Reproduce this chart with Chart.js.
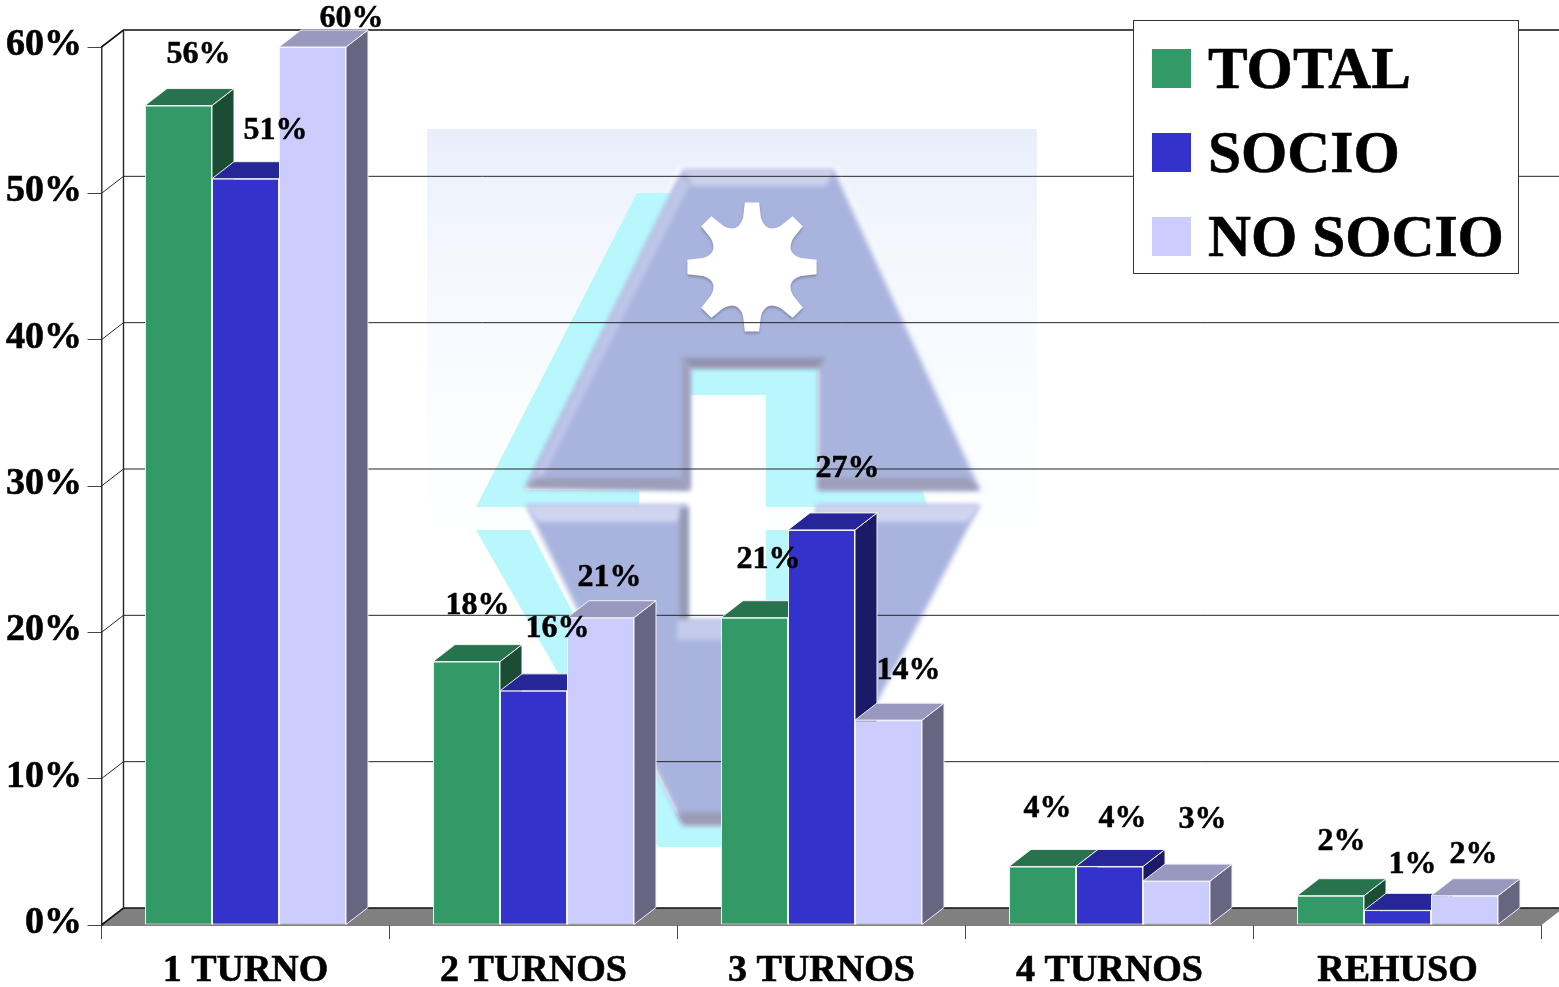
<!DOCTYPE html>
<html>
<head>
<meta charset="utf-8">
<title>Turnos</title>
<script src="https://cdn.jsdelivr.net/npm/chart.js@4"></script>
<style>
  html, body { margin: 0; padding: 0; background: #fff; overflow: hidden; }
  canvas { display: block; }
</style>
</head>
<body>
<canvas id="myChart" width="1559" height="987"></canvas>
<script>
const categories = ["1 TURNO", "2 TURNOS", "3 TURNOS", "4 TURNOS", "REHUSO"];
const seriesNames = ["TOTAL", "SOCIO", "NO SOCIO"];
const total = [56, 18, 21, 4, 2];
const socio = [51, 16, 27, 4, 1];
const noSocio = [60, 21, 14, 3, 2];
const yTicks = [0, 10, 20, 30, 40, 50, 60];

// front, top and side colours for each series
const frontColors = ["#339966", "#3333cc", "#ccccff"];
const topColors = ["#26734d", "#262699", "#9999bf"];
const sideColors = ["#1a4d33", "#1a1a66", "#666680"];

// where each value label sits, measured from the top centre of its bar
const labelDx = [[20, 11, 14, 5, 11], [30, 24, 26, 13, 15], [39, 9, 20, 26, 9]];
const labelDy = [[-43, -48, -50, -49, -46], [-40, -54, -53, -39, -37], [-20, -32, -41, -53, -33]];

const serif = "'Liberation Serif', serif";
const depthX = 22;
const depthY = 17;

function poly(ctx, pts, fill) {
  ctx.beginPath();
  pts.forEach((p, i) => (i ? ctx.lineTo(p[0], p[1]) : ctx.moveTo(p[0], p[1])));
  ctx.closePath();
  if (fill) {
    ctx.fillStyle = fill;
    ctx.fill();
  }
}

function boldText(ctx, text, x, y) {
  ctx.fillText(text, x, y);
  ctx.strokeText(text, x, y);
}

function drawGear(ctx, cx, cy) {
  ctx.beginPath();
  for (let i = 0; i < 8; i++) {
    const a = (i * Math.PI) / 4 - Math.PI / 2;
    const at = (r, d) => [cx + r * Math.cos(a + d), cy + r * Math.sin(a + d)];
    const p1 = at(50, -0.18);
    const p2 = at(65, -0.11);
    const p3 = at(65, 0.11);
    const p4 = at(50, 0.18);
    const c = at(36, Math.PI / 8);
    const next = at(50, Math.PI / 4 - 0.18);
    if (i === 0) ctx.moveTo(p1[0], p1[1]);
    ctx.lineTo(p2[0], p2[1]);
    ctx.lineTo(p3[0], p3[1]);
    ctx.lineTo(p4[0], p4[1]);
    ctx.quadraticCurveTo(c[0], c[1], next[0], next[1]);
  }
  ctx.closePath();
  ctx.fillStyle = "#ffffff";
  ctx.fill();
}

// the faded emblem behind the bars
function drawLogo(ctx) {
  const bg = ctx.createLinearGradient(0, 129, 0, 560);
  bg.addColorStop(0, "#e8eefa");
  bg.addColorStop(0.25, "#f3f7fd");
  bg.addColorStop(0.7, "#fbfdff");
  bg.addColorStop(1, "#ffffff");
  ctx.fillStyle = bg;
  ctx.fillRect(427, 129, 610, 720);

  // soft white rim round the shapes
  ctx.save();
  ctx.filter = "blur(2.5px)";
  poly(ctx, [[678, 166], [838, 166], [986, 492], [520, 490]], "#f7f9fe");
  ctx.restore();

  const cyan = "#b8f7fb";
  poly(ctx, [[637, 193], [672, 193], [525, 490], [639, 490], [639, 507], [476, 507]], cyan);
  ctx.fillStyle = "#ffffff";
  ctx.fillRect(639, 490, 180, 17);
  ctx.fillRect(690, 395, 76, 225);
  poly(ctx, [[690, 368], [818, 368], [818, 490], [922, 490], [928, 507], [766, 507], [766, 395], [690, 395]], cyan);
  poly(ctx, [[476, 530], [530, 530], [683, 825], [721, 825], [721, 847], [658, 847]], cyan);
  poly(ctx, [[766, 530], [800, 530], [800, 620], [766, 620]], cyan);

  ctx.save();
  ctx.filter = "blur(2.5px)";
  // upper A
  poly(ctx, [[683, 170], [834, 170], [980, 490], [818, 490], [818, 368], [690, 368], [690, 490], [525, 487]], "#a9b4de");
  poly(ctx, [[683, 170], [834, 170], [826, 186], [692, 186]], "#ccd1ec");
  poly(ctx, [[681, 176], [690, 184], [542, 478], [530, 484]], "#bfc6e8");
  poly(ctx, [[536, 478], [680, 478], [690, 490], [525, 488]], "#9c9db6");
  poly(ctx, [[818, 478], [968, 478], [980, 490], [818, 490]], "#9c9db6");
  poly(ctx, [[682, 358], [826, 358], [818, 368], [690, 368]], "#9193ac");
  poly(ctx, [[682, 358], [690, 368], [690, 490], [682, 480]], "#9c9fba");
  // lower piece
  poly(ctx, [[526, 505], [688, 505], [688, 620], [800, 620], [817, 505], [980, 505], [813, 825], [683, 825]], "#a9b4de");
  poly(ctx, [[526, 505], [688, 505], [678, 522], [538, 522]], "#d0d5ef");
  poly(ctx, [[817, 505], [980, 505], [968, 522], [817, 522]], "#d0d5ef");
  poly(ctx, [[680, 508], [688, 508], [688, 620], [680, 620]], "#9496ad");
  poly(ctx, [[677, 620], [770, 620], [770, 640], [677, 640]], "#c4cbea");
  poly(ctx, [[676, 812], [820, 812], [813, 825], [683, 825]], "#9a9cb6");
  ctx.restore();

  ctx.save();
  ctx.shadowColor = "rgba(90,90,120,0.5)";
  ctx.shadowBlur = 3;
  ctx.shadowOffsetY = 2;
  drawGear(ctx, 752, 267);
  ctx.restore();
}

function drawFaces(chart, i) {
  const ctx = chart.ctx;
  ctx.save();
  ctx.strokeStyle = "#f2f2f8";
  ctx.lineWidth = 1;
  chart.getDatasetMeta(i).data.forEach((bar) => {
    const { x, y, base, width } = bar.getProps(["x", "y", "base", "width"], true);
    const l = x - width / 2;
    const r = x + width / 2;
    poly(ctx, [[r, y], [r + depthX, y - depthY], [r + depthX, base - depthY], [r, base]], sideColors[i]);
    ctx.stroke();
    poly(ctx, [[l, y], [l + depthX, y - depthY], [r + depthX, y - depthY], [r, y]], topColors[i]);
    ctx.stroke();
  });
  ctx.restore();
}

const wallPlugin = {
  id: "wall",
  beforeDatasetsDraw(chart) {
    const { ctx, chartArea: area, scales } = chart;
    const y = scales.y;
    const right = area.right;
    const bottom = y.getPixelForValue(0);
    ctx.save();
    drawLogo(ctx);
    poly(ctx, [[area.left, bottom], [area.left + depthX, bottom - depthY], [right + depthX, bottom - depthY], [right, bottom]], "#808080");

    yTicks.forEach((v) => {
      const py = y.getPixelForValue(v);
      ctx.beginPath();
      ctx.moveTo(area.left, py);
      ctx.lineTo(area.left + depthX, py - depthY);
      ctx.lineTo(right + depthX, py - depthY);
      ctx.strokeStyle = v === 0 || v === 60 ? "#111111" : "#262626";
      ctx.lineWidth = v === 0 || v === 60 ? 1.6 : 1;
      ctx.stroke();
    });
    ctx.beginPath();
    ctx.moveTo(area.left + depthX, y.getPixelForValue(60) - depthY);
    ctx.lineTo(area.left + depthX, bottom - depthY);
    ctx.strokeStyle = "#222222";
    ctx.lineWidth = 1.4;
    ctx.stroke();

    ctx.fillStyle = "#000";
    ctx.strokeStyle = "#000";
    ctx.lineWidth = 0.6;
    ctx.font = "bold 38px " + serif;
    ctx.textAlign = "right";
    ctx.textBaseline = "alphabetic";
    yTicks.forEach((v) => boldText(ctx, v + "%", 82, y.getPixelForValue(v) + 8));
    ctx.restore();

    // left to right, so each bar covers the side of the one before it
    chart.data.datasets.forEach((ds, i) => {
      drawFaces(chart, i);
      chart.getDatasetMeta(i).controller.draw();
    });
  },
  beforeDatasetDraw() {
    return false;
  },
  afterDatasetsDraw(chart) {
    const ctx = chart.ctx;
    ctx.save();
    ctx.fillStyle = "#000";
    ctx.strokeStyle = "#000";
    ctx.lineWidth = 0.5;
    ctx.font = "bold 32px " + serif;
    ctx.textAlign = "center";
    ctx.textBaseline = "alphabetic";
    chart.data.datasets.forEach((ds, i) => {
      chart.getDatasetMeta(i).data.forEach((bar, j) => {
        const { x, y } = bar.getProps(["x", "y"], true);
        boldText(ctx, ds.data[j] + "%", x + labelDx[i][j], y + labelDy[i][j]);
      });
    });
    // legend box
    ctx.fillStyle = "#fff";
    ctx.fillRect(1133.5, 20.5, 385, 253);
    ctx.strokeStyle = "#333";
    ctx.lineWidth = 1;
    ctx.strokeRect(1133.5, 20.5, 385, 253);
    ctx.font = "bold 59.5px " + serif;
    ctx.textAlign = "left";
    ctx.strokeStyle = "#000";
    ctx.lineWidth = 0.6;
    chart.data.datasets.forEach((ds, i) => {
      const base = 88 + i * 84;
      ctx.fillStyle = frontColors[i];
      ctx.fillRect(1152, base - 39, 39, 39);
      ctx.fillStyle = "#000";
      boldText(ctx, ds.label, 1208, base);
    });
    ctx.restore();
  },
};

const allValues = [total, socio, noSocio];

new Chart(document.querySelector("#myChart").getContext("2d"), {
  type: "bar",
  data: {
    labels: categories,
    datasets: seriesNames.map((name, i) => ({
      label: name,
      data: allValues[i],
      backgroundColor: frontColors[i],
      borderColor: "#f2f2f8",
      borderWidth: 1,
      borderSkipped: false,
      categoryPercentage: 0.698,
      barPercentage: 1,
    })),
  },
  plugins: [wallPlugin],
  options: {
    responsive: false,
    animation: false,
    layout: { padding: { top: 47, right: 17.5, left: 0, bottom: 0 } },
    plugins: {
      legend: { display: false },
      tooltip: { enabled: false },
    },
    scales: {
      x: {
        afterFit(scale) {
          scale.height = 62;
        },
        grid: { drawOnChartArea: false, drawTicks: true, tickLength: 14, color: "#444444", lineWidth: 1 },
        border: { color: "#000000", width: 1.5 },
        ticks: {
          color: "#000",
          padding: 9,
          maxRotation: 0,
          autoSkip: false,
          textStrokeColor: "#000",
          textStrokeWidth: 0.6,
          font: { family: serif, size: 38, weight: "bold" },
        },
      },
      y: {
        min: 0,
        max: 60,
        afterFit(scale) {
          scale.width = 101.5;
        },
        afterBuildTicks(scale) {
          scale.ticks = yTicks.map((v) => ({ value: v }));
        },
        grid: { drawOnChartArea: false, drawTicks: true, tickLength: 14, color: "#444444", lineWidth: 1 },
        border: { color: "#333333", width: 1.5 },
        ticks: { display: false },
      },
    },
  },
});
</script>
</body>
</html>
